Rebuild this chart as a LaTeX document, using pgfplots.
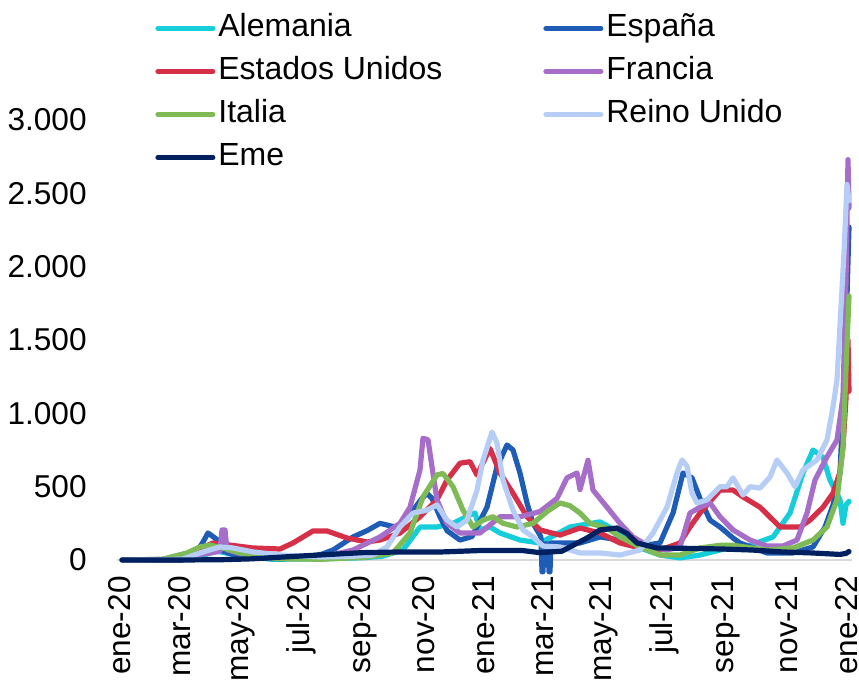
\documentclass[border=0pt]{standalone}
\usepackage{fontspec}
\setmainfont{Liberation Sans}
\usepackage{pgfplots}
\pgfplotsset{compat=1.18}
\definecolor{cAle}{RGB}{22,205,218}
\definecolor{cEsp}{RGB}{30,92,182}
\definecolor{cUSA}{RGB}{214,48,72}
\definecolor{cFra}{RGB}{166,110,200}
\definecolor{cIta}{RGB}{126,186,86}
\definecolor{cRU}{RGB}{182,206,246}
\definecolor{cEme}{RGB}{0,32,96}
\begin{document}
\begin{tikzpicture}
\path[use as bounding box] (-58.5pt,-62.5pt) rectangle (371pt,280pt);
\begin{axis}[
  at={(0pt,0pt)}, anchor=south west,
  scale only axis, width=367.5pt, height=220pt,
  xmin=-5, xmax=730, ymin=0, ymax=3000,
  axis lines*=left,
  x axis line style={draw=black!15, line width=0.8pt},
  y axis line style={draw=none},
  major tick length=0pt,
  xtick={-2,57.7,118.3,179.0,240.7,301.3,362.0,420.7,481.3,542.0,603.7,664.3,725.0},
  xticklabels={ene-20,mar-20,may-20,jul-20,sep-20,nov-20,ene-21,mar-21,may-21,jul-21,sep-21,nov-21,ene-22},
  ytick={0,500,1000,1500,2000,2500,3000},
  yticklabels={0,500,1.000,1.500,2.000,2.500,3.000},
  /pgf/number format/assume math mode=true,
  tick label style={font=\fontsize{15.8}{19}\selectfont, inner sep=0pt},
  xticklabel style={rotate=90, anchor=east},
  yticklabel style={anchor=east},
  xticklabel shift=8pt,
  yticklabel shift=15pt,
  clip=false,
  legend columns=2,
  legend cell align=left,
  legend style={at={(0.0517,1.2443)}, anchor=north west, draw=none, fill=none,
    inner sep=0pt, column sep=0pt, row sep=6pt,
    font=\fontsize{16}{19}\selectfont,
    nodes={inner xsep=1.5pt, inner ysep=0pt, text height=12pt, text depth=3.5pt}},
  legend image code/.code={\draw[#1, line width=2.5pt, line cap=round] (0pt,0pt) -- (27.5pt,0pt);},
  every axis plot/.append style={line width=2.6pt, line join=round, line cap=round},
]
% Alemania
\addplot[cAle] coordinates {(0,0) (60,0) (80,30) (95,60) (120,25) (150,5) (200,8) (240,15) (260,25) (281,68) (298,225) (315,225) (331,250) (348,307) (353,320) (358,205) (368,225) (378,184) (398,136) (418,116) (448,225) (478,260) (498,184) (518,82) (538,34) (558,14) (578,34) (598,68) (611,89) (628,100) (651,157) (668,320) (681,593) (691,750) (701,700) (708,545) (718,410) (721,250) (724,375) (727,400)};
\addlegendentry{\makebox[161pt][l]{Alemania}}
% España
\addplot[cEsp] coordinates {(0,0) (60,0) (70,20) (80,110) (86,184) (95,140) (98,68) (110,40) (130,15) (160,8) (180,15) (200,40) (211,68) (231,157) (245,200) (258,250) (270,230) (278,225) (290,330) (300,420) (305,455) (310,420) (318,295) (325,200) (338,136) (350,160) (365,360) (375,635) (385,784) (391,750) (398,593) (405,389) (411,250) (418,170) (419,150) (420,-80) (421,-80) (422,110) (426,110) (427,-80) (428,-80) (429,116) (438,116) (458,116) (478,157) (498,136) (518,95) (538,116) (551,320) (561,593) (570,560) (578,420) (588,272) (598,225) (611,150) (618,116) (645,48) (671,48) (691,89) (703,225) (711,375) (718,593) (722,1200) (725,1800) (727,2270)};
\addlegendentry{España}
% Estados Unidos
\addplot[cUSA] coordinates {(0,0) (60,2) (75,68) (91,116) (110,100) (131,82) (158,75) (171,116) (191,198) (205,198) (225,150) (245,123) (258,136) (278,184) (298,295) (315,410) (325,545) (338,660) (348,670) (355,580) (368,760) (378,593) (391,455) (405,295) (418,205) (438,170) (458,218) (478,184) (498,116) (518,82) (538,68) (558,116) (568,225) (578,320) (598,477) (611,477) (621,430) (638,360) (658,225) (678,225) (688,272) (701,360) (711,455) (718,600) (721,770) (724,1100) (726,1500) (727,1150)};
\addlegendentry{\makebox[161pt][l]{Estados Unidos}}
% Francia
\addplot[cFra] coordinates {(0,0) (50,5) (70,30) (90,50) (98,60) (100,205) (103,205) (105,70) (115,50) (140,20) (170,10) (200,20) (231,68) (258,157) (278,250) (288,360) (298,614) (301,830) (306,820) (310,635) (315,410) (325,250) (338,184) (358,184) (378,295) (398,295) (418,330) (435,420) (445,560) (455,593) (458,480) (466,680) (471,477) (485,360) (498,250) (511,157) (528,89) (545,68) (558,89) (568,320) (578,360) (588,389) (598,295) (611,205) (628,136) (645,95) (661,95) (675,136) (685,320) (693,545) (705,703) (715,818) (721,1112) (724,1900) (726,2730) (727,2400)};
\addlegendentry{Francia}
% Italia
\addplot[cIta] coordinates {(0,0) (40,5) (65,48) (78,89) (88,102) (101,82) (118,48) (138,20) (160,8) (200,5) (245,20) (271,48) (288,184) (301,430) (315,580) (321,590) (331,500) (341,340) (351,225) (361,272) (371,295) (381,250) (395,225) (411,250) (425,330) (438,389) (448,370) (458,320) (468,250) (485,218) (498,157) (518,89) (538,34) (558,34) (578,82) (598,100) (611,100) (645,68) (671,82) (691,136) (705,225) (715,410) (721,770) (724,1300) (727,1800)};
\addlegendentry{\makebox[161pt][l]{Italia}}
% Reino Unido
\addplot[cRU] coordinates {(0,0) (60,5) (81,55) (98,89) (111,82) (131,55) (158,34) (198,20) (230,25) (251,34) (265,89) (278,225) (291,320) (305,340) (315,375) (325,272) (335,225) (345,272) (355,477) (361,680) (370,873) (375,798) (381,545) (391,340) (401,205) (411,157) (421,95) (438,89) (458,48) (478,48) (498,34) (518,68) (531,184) (545,360) (555,593) (560,682) (565,640) (570,455) (575,389) (585,410) (598,500) (605,500) (611,560) (621,443) (628,500) (638,490) (648,566) (655,682) (665,593) (673,500) (681,614) (695,682) (705,818) (711,1043) (715,1228) (718,1600) (722,2100) (725,2560) (727,2450)};
\addlegendentry{Reino Unido}
% Eme
\addplot[cEme] coordinates {(0,0) (60,0) (100,2) (130,8) (160,20) (200,35) (240,50) (280,55) (320,55) (360,65) (400,65) (418,50) (440,60) (448,89) (465,150) (478,205) (495,218) (505,180) (515,116) (535,82) (560,80) (600,75) (630,68) (660,55) (690,48) (718,38) (724,45) (727,58)};
\addlegendentry{\makebox[161pt][l]{Eme}}
\end{axis}
\end{tikzpicture}
\end{document}
